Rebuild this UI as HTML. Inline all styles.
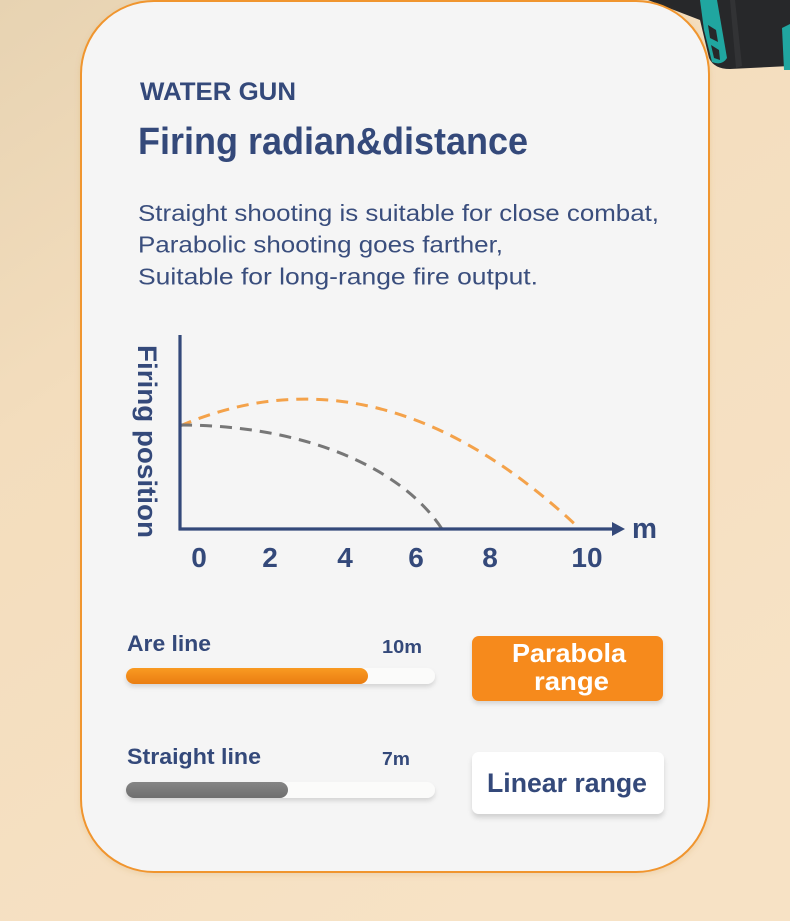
<!DOCTYPE html>
<html>
<head>
<meta charset="utf-8">
<style>
  html,body{margin:0;padding:0;width:790px;height:921px;overflow:hidden;background:#f4dfc0;}
  svg{display:block;}
  text{font-family:"Liberation Sans", "DejaVu Sans", sans-serif;}
</style>
</head>
<body>
<svg width="790" height="921" viewBox="0 0 790 921" xmlns="http://www.w3.org/2000/svg">
  <defs>
    <linearGradient id="bg" x1="0" y1="0" x2="0.6" y2="1">
      <stop offset="0" stop-color="#e7d3b2"/>
      <stop offset="0.35" stop-color="#f3ddbd"/>
      <stop offset="1" stop-color="#f7e2c5"/>
    </linearGradient>
    <linearGradient id="org" x1="0" y1="0" x2="0" y2="1">
      <stop offset="0" stop-color="#f99a22"/>
      <stop offset="1" stop-color="#ea7d12"/>
    </linearGradient>
    <linearGradient id="gry" x1="0" y1="0" x2="0" y2="1">
      <stop offset="0" stop-color="#858585"/>
      <stop offset="1" stop-color="#6f6f6f"/>
    </linearGradient>
    <filter id="sh" x="-10%" y="-30%" width="120%" height="180%">
      <feDropShadow dx="0" dy="3" stdDeviation="2" flood-color="#000" flood-opacity="0.13"/>
    </filter>
    <filter id="sh2" x="-10%" y="-30%" width="120%" height="170%">
      <feDropShadow dx="0" dy="4" stdDeviation="2.5" flood-color="#000" flood-opacity="0.14"/>
    </filter>
    <filter id="cardsh" x="-5%" y="-5%" width="110%" height="110%">
      <feDropShadow dx="0" dy="2" stdDeviation="3" flood-color="#b07a30" flood-opacity="0.15"/>
    </filter>
  </defs>

  <!-- background -->
  <rect x="0" y="0" width="790" height="921" fill="url(#bg)"/>

  <!-- gun at top right (behind card) -->
  <path d="M648,0 L790,0 L790,66 L730,69 Q714,69 709,58 L700,20 Z" fill="#27282a"/>
  <path d="M700,0 L717,0 L727,58 Q722,66 712,62 L704,30 Z" fill="#20a6a0"/>
  <path d="M708,25 L716,30 L718,42 L710,38 Z" fill="#27282a"/>
  <path d="M711,45 L719,50 L720,60 L714,58 Z" fill="#27282a"/>
  <path d="M782,28 L790,24 L790,70 L784,70 Z" fill="#20a6a0"/>
  <path d="M730,0 L735,0 L742,66 L736,68 Z" fill="#3a3b3d" opacity="0.6"/>

  <!-- card -->
  <rect x="81" y="1" width="628" height="871" rx="73" ry="73" fill="#f5f5f5" stroke="#f0952e" stroke-width="2" filter="url(#cardsh)"/>

  <!-- header -->
  <text x="140" y="100" font-size="25" font-weight="bold" fill="#34497a" textLength="156" lengthAdjust="spacingAndGlyphs">WATER GUN</text>
  <text x="138" y="154" font-size="38" font-weight="bold" fill="#34497a" textLength="390" lengthAdjust="spacingAndGlyphs">Firing radian&amp;distance</text>

  <text x="138" y="221" font-size="23" fill="#3a4e7d" textLength="521" lengthAdjust="spacingAndGlyphs">Straight shooting is suitable for close combat,</text>
  <text x="138" y="252.5" font-size="23" fill="#3a4e7d" textLength="365" lengthAdjust="spacingAndGlyphs">Parabolic shooting goes farther,</text>
  <text x="138" y="284.5" font-size="23" fill="#3a4e7d" textLength="400" lengthAdjust="spacingAndGlyphs">Suitable for long-range fire output.</text>

  <!-- chart -->
  <text transform="translate(138,345) rotate(90)" x="0" y="0" font-size="27" font-weight="bold" fill="#34497a" textLength="193" lengthAdjust="spacingAndGlyphs">Firing position</text>

  <path d="M180,426 Q380,340 580,529" fill="none" stroke="#f4a24a" stroke-width="3" stroke-dasharray="12 8"/>
  <path d="M180,425 C300,425 400,465 442,529" fill="none" stroke="#777777" stroke-width="3" stroke-dasharray="12 8"/>

  <line x1="180" y1="335" x2="180" y2="530" stroke="#34497a" stroke-width="3.2"/>
  <line x1="178.5" y1="529" x2="614" y2="529" stroke="#34497a" stroke-width="3.2"/>
  <polygon points="612,522 625,529 612,536" fill="#34497a"/>
  <text x="632" y="538" font-size="29" font-weight="bold" fill="#34497a" textLength="25" lengthAdjust="spacingAndGlyphs">m</text>

  <g font-size="28" font-weight="bold" fill="#34497a" text-anchor="middle">
    <text x="199" y="567">0</text>
    <text x="270" y="567">2</text>
    <text x="345" y="567">4</text>
    <text x="416" y="567">6</text>
    <text x="490" y="567">8</text>
    <text x="587" y="567">10</text>
  </g>

  <!-- bars -->
  <text x="127" y="651" font-size="22" font-weight="bold" fill="#34497a" textLength="84" lengthAdjust="spacingAndGlyphs">Are line</text>
  <text x="382" y="653" font-size="18" font-weight="bold" fill="#34497a" textLength="40" lengthAdjust="spacingAndGlyphs">10m</text>
  <rect x="126" y="668" width="309" height="16" rx="8" fill="#fbfbfa" filter="url(#sh)"/>
  <rect x="126" y="668" width="242" height="16" rx="8" fill="url(#org)"/>

  <text x="127" y="764" font-size="22" font-weight="bold" fill="#34497a" textLength="134" lengthAdjust="spacingAndGlyphs">Straight line</text>
  <text x="382" y="765" font-size="18" font-weight="bold" fill="#34497a" textLength="28" lengthAdjust="spacingAndGlyphs">7m</text>
  <rect x="126" y="782" width="309" height="16" rx="8" fill="#fbfbfa" filter="url(#sh)"/>
  <rect x="126" y="782" width="162" height="16" rx="8" fill="url(#gry)"/>

  <!-- buttons -->
  <rect x="472" y="636" width="191" height="65" rx="7" fill="#f68a1e" filter="url(#sh)"/>
  <text x="569" y="662" font-size="26" font-weight="bold" fill="#ffffff" text-anchor="middle" textLength="114" lengthAdjust="spacingAndGlyphs">Parabola</text>
  <text x="571.5" y="690" font-size="26" font-weight="bold" fill="#ffffff" text-anchor="middle" textLength="75" lengthAdjust="spacingAndGlyphs">range</text>

  <rect x="472" y="752" width="192" height="62" rx="7" fill="#ffffff" filter="url(#sh2)"/>
  <text x="487" y="792" font-size="27" font-weight="bold" fill="#34497a" textLength="160" lengthAdjust="spacingAndGlyphs">Linear range</text>
</svg>
</body>
</html>
